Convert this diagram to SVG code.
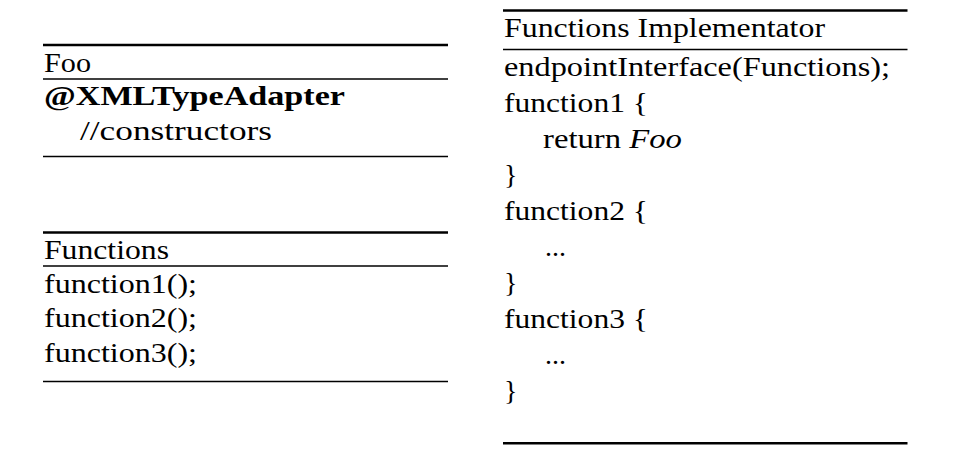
<svg xmlns="http://www.w3.org/2000/svg" width="953" height="470" viewBox="0 0 953 470">
<style>
.t{font-family:"Liberation Serif","Times New Roman",serif;font-size:28px;fill:#000}
.b{font-weight:bold}
.thick{stroke:#000;stroke-width:2.4}
.thin{stroke:#000;stroke-width:1.3}
</style>
<rect width="953" height="470" fill="#fff"/>
<g id="foo">
<line class="thick" x1="43" y1="45" x2="448" y2="45"/>
<text class="t" x="44" y="71.5" textLength="47" lengthAdjust="spacingAndGlyphs">Foo</text>
<line class="thin" x1="43" y1="79" x2="448" y2="79"/>
<text class="t b" x="44" y="105" textLength="301" lengthAdjust="spacingAndGlyphs">@XMLTypeAdapter</text>
<text class="t" x="80" y="139.5" textLength="192" lengthAdjust="spacingAndGlyphs">//constructors</text>
<line class="thin" x1="43" y1="156.5" x2="448" y2="156.5"/>
</g>
<g id="functions">
<line class="thick" x1="43" y1="232.5" x2="448" y2="232.5"/>
<text class="t" x="44" y="258.5" textLength="125" lengthAdjust="spacingAndGlyphs">Functions</text>
<line class="thin" x1="43" y1="266" x2="448" y2="266"/>
<text class="t" x="44" y="292.7" textLength="153" lengthAdjust="spacingAndGlyphs">function1();</text>
<text class="t" x="44" y="327.3" textLength="153" lengthAdjust="spacingAndGlyphs">function2();</text>
<text class="t" x="44" y="361.9" textLength="153" lengthAdjust="spacingAndGlyphs">function3();</text>
<line class="thin" x1="43" y1="381.5" x2="448" y2="381.5"/>
</g>
<g id="implementator">
<line class="thick" x1="503" y1="10.5" x2="907.5" y2="10.5"/>
<text class="t" x="504" y="36.5" textLength="321" lengthAdjust="spacingAndGlyphs">Functions Implementator</text>
<line class="thin" x1="503" y1="49.5" x2="907.5" y2="49.5"/>
<text class="t" x="504" y="76" textLength="386" lengthAdjust="spacingAndGlyphs">endpointInterface(Functions);</text>
<text class="t" x="504" y="112" textLength="144" lengthAdjust="spacingAndGlyphs">function1 {</text>
<text class="t" x="543" y="148" textLength="139" lengthAdjust="spacingAndGlyphs">return <tspan font-style="italic">Foo</tspan></text>
<text class="t" x="504" y="184">}</text>
<text class="t" x="504" y="220" textLength="144" lengthAdjust="spacingAndGlyphs">function2 {</text>
<text class="t" x="545" y="256" textLength="21" lengthAdjust="spacingAndGlyphs">...</text>
<text class="t" x="504" y="292">}</text>
<text class="t" x="504" y="328" textLength="144" lengthAdjust="spacingAndGlyphs">function3 {</text>
<text class="t" x="545" y="364" textLength="21" lengthAdjust="spacingAndGlyphs">...</text>
<text class="t" x="504" y="400">}</text>
<line class="thick" x1="503" y1="443.3" x2="907.5" y2="443.3"/>
</g>
</svg>
